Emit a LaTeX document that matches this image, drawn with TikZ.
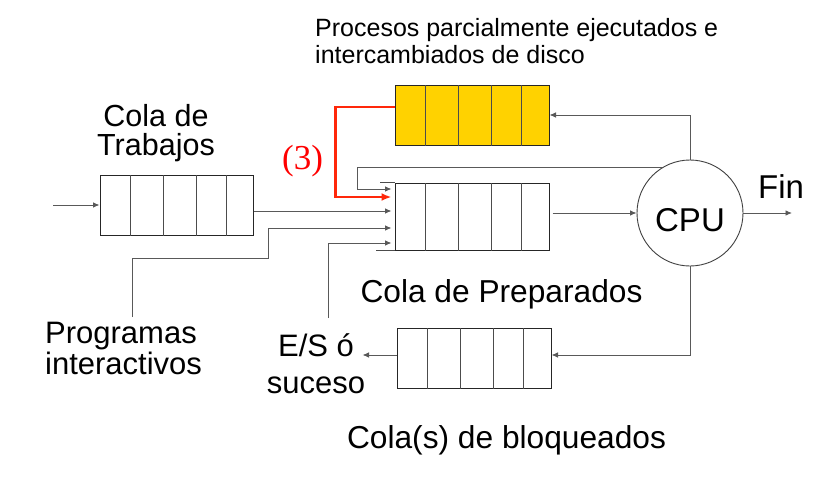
\documentclass[tikz,border=0pt]{standalone}
\usepackage{fontspec}
\setmainfont{Liberation Sans}
\newfontfamily\fuenteserif{Liberation Serif}
\usepackage{xcolor}
\usepackage{tikz}
\tikzset{>=latex}
\usetikzlibrary{arrows.meta}
\definecolor{amarillo}{RGB}{255,210,0}
\definecolor{rojo}{RGB}{255,40,10}
\def\colawidth{154}
\def\colaheight{60}
\def\cpuradius{53}
\newcommand{\celdas}[1]{\foreach \d in {31,64,97,127} {\draw[black!70, line width=0.8pt] ([xshift=\d pt]#1.south west) -- ([xshift=\d pt]#1.north west);}}
\tikzset{
  cola/.style={draw=black!85, line width=1pt, rectangle, inner sep=0pt, minimum width=\colawidth pt, minimum height=\colaheight pt},
  linea/.style={draw=black!65, line width=0.9pt, -{Latex[length=6.5pt,width=5.5pt]}},
  entra/.style={linea, shorten >=3pt},
  rojolinea/.style={draw=rojo, line width=2.6pt, -{Latex[length=10pt,width=8pt]}, shorten >=3pt},
  rotulo/.style={inner sep=0pt, align=center},
}

\begin{document}
\begin{tikzpicture}[x=1pt, y=1pt]
\useasboundingbox (0,0) rectangle (840,-477);

% Colas
\node[cola, minimum width=153pt] (trabajos) at (176.5,-205) {};
\node[cola, minimum height=67pt] (preparados) at (472,-216.5) {};
\node[cola, fill=amarillo] (disco) at (472,-115) {};
\node[cola] (bloqueados) at (474,-358) {};
\celdas{trabajos}
\celdas{preparados}
\celdas{disco}
\celdas{bloqueados}
\draw[black!70, line width=0.8pt] (preparados.north west) -- ++(-15,0);
\draw[black!70, line width=0.8pt] (preparados.south west) -- ++(-19,0);

% CPU
\node[circle, draw=black!75, line width=0.9pt, minimum size=2*\cpuradius pt, inner sep=0pt, text height=38pt, font=\fontsize{33}{36}\selectfont] (cpu) at (690,-213) {CPU};

% Textos
\node[rotulo, anchor=north, font=\fontsize{30.5}{29}\selectfont] (trabajostxt) at (156,-104) {Cola de\\Trabajos};
\node[rotulo, anchor=north west, align=left, font=\fontsize{25}{27}\selectfont] (disctxt) at (315,-18) {Procesos parcialmente ejecutados e\\intercambiados de disco};
\node[rotulo, anchor=north, font=\fontsize{31.7}{20}\selectfont] (preptxt) at (501.5,-279) {Cola de Preparados};
\node[rotulo, anchor=north, font=\fontsize{31.7}{20}\selectfont] (bloqtxt) at (506.5,-425) {Cola(s) de bloqueados};
\node[rotulo, anchor=north west, align=left, font=\fontsize{31}{31}\selectfont] (programas) at (45,-322) {Programas\\interactivos};
\node[rotulo, anchor=north, font=\fontsize{31}{37}\selectfont] (suceso) at (316,-333) {E/S ó\\suceso};
\node[rotulo, anchor=base west, font=\fontsize{33}{36}\selectfont] (fintxt) at (758,-198) {Fin};
\node[rotulo, text=red, font=\fuenteserif\fontsize{35}{36}\selectfont] (tres) at (302.5,-161) {(3)};

% Conexiones
\coordinate (entrada) at (53,-205);
\coordinate (fin) at (792,-213);
\draw[linea] (entrada) -- (trabajos.west);
\draw[entra] ([yshift=-6pt]trabajos.east) -- ([yshift=5.5pt]preparados.west);
\draw[entra] ([xshift=87pt,yshift=5pt]programas.north west) |- ++(136,59) |- ([yshift=-11.5pt]preparados.west);
\draw[entra] ([xshift=12pt,yshift=15pt]suceso.north) |- ([yshift=-26.5pt]preparados.west);
\draw[entra] (cpu.122) -| ([xshift=-37pt,yshift=27.5pt]preparados.west) -- ([yshift=27.5pt]preparados.west);
\draw[rojolinea] ([yshift=8pt]disco.west) -| ([xshift=-59pt,yshift=19.5pt]preparados.west) -- ([yshift=19.5pt]preparados.west);
\draw[linea, shorten <=3pt] (preparados.east |- cpu.west) -- (cpu.west);
\draw[linea] (cpu.east) -- (fin);
\draw[linea] (cpu.north) |- (disco.east);
\draw[linea] (cpu.south) |- ([yshift=3pt]bloqueados.east);
\draw[linea] ([yshift=3pt]bloqueados.west) -- ++(-34,0);

\end{tikzpicture}
\end{document}
